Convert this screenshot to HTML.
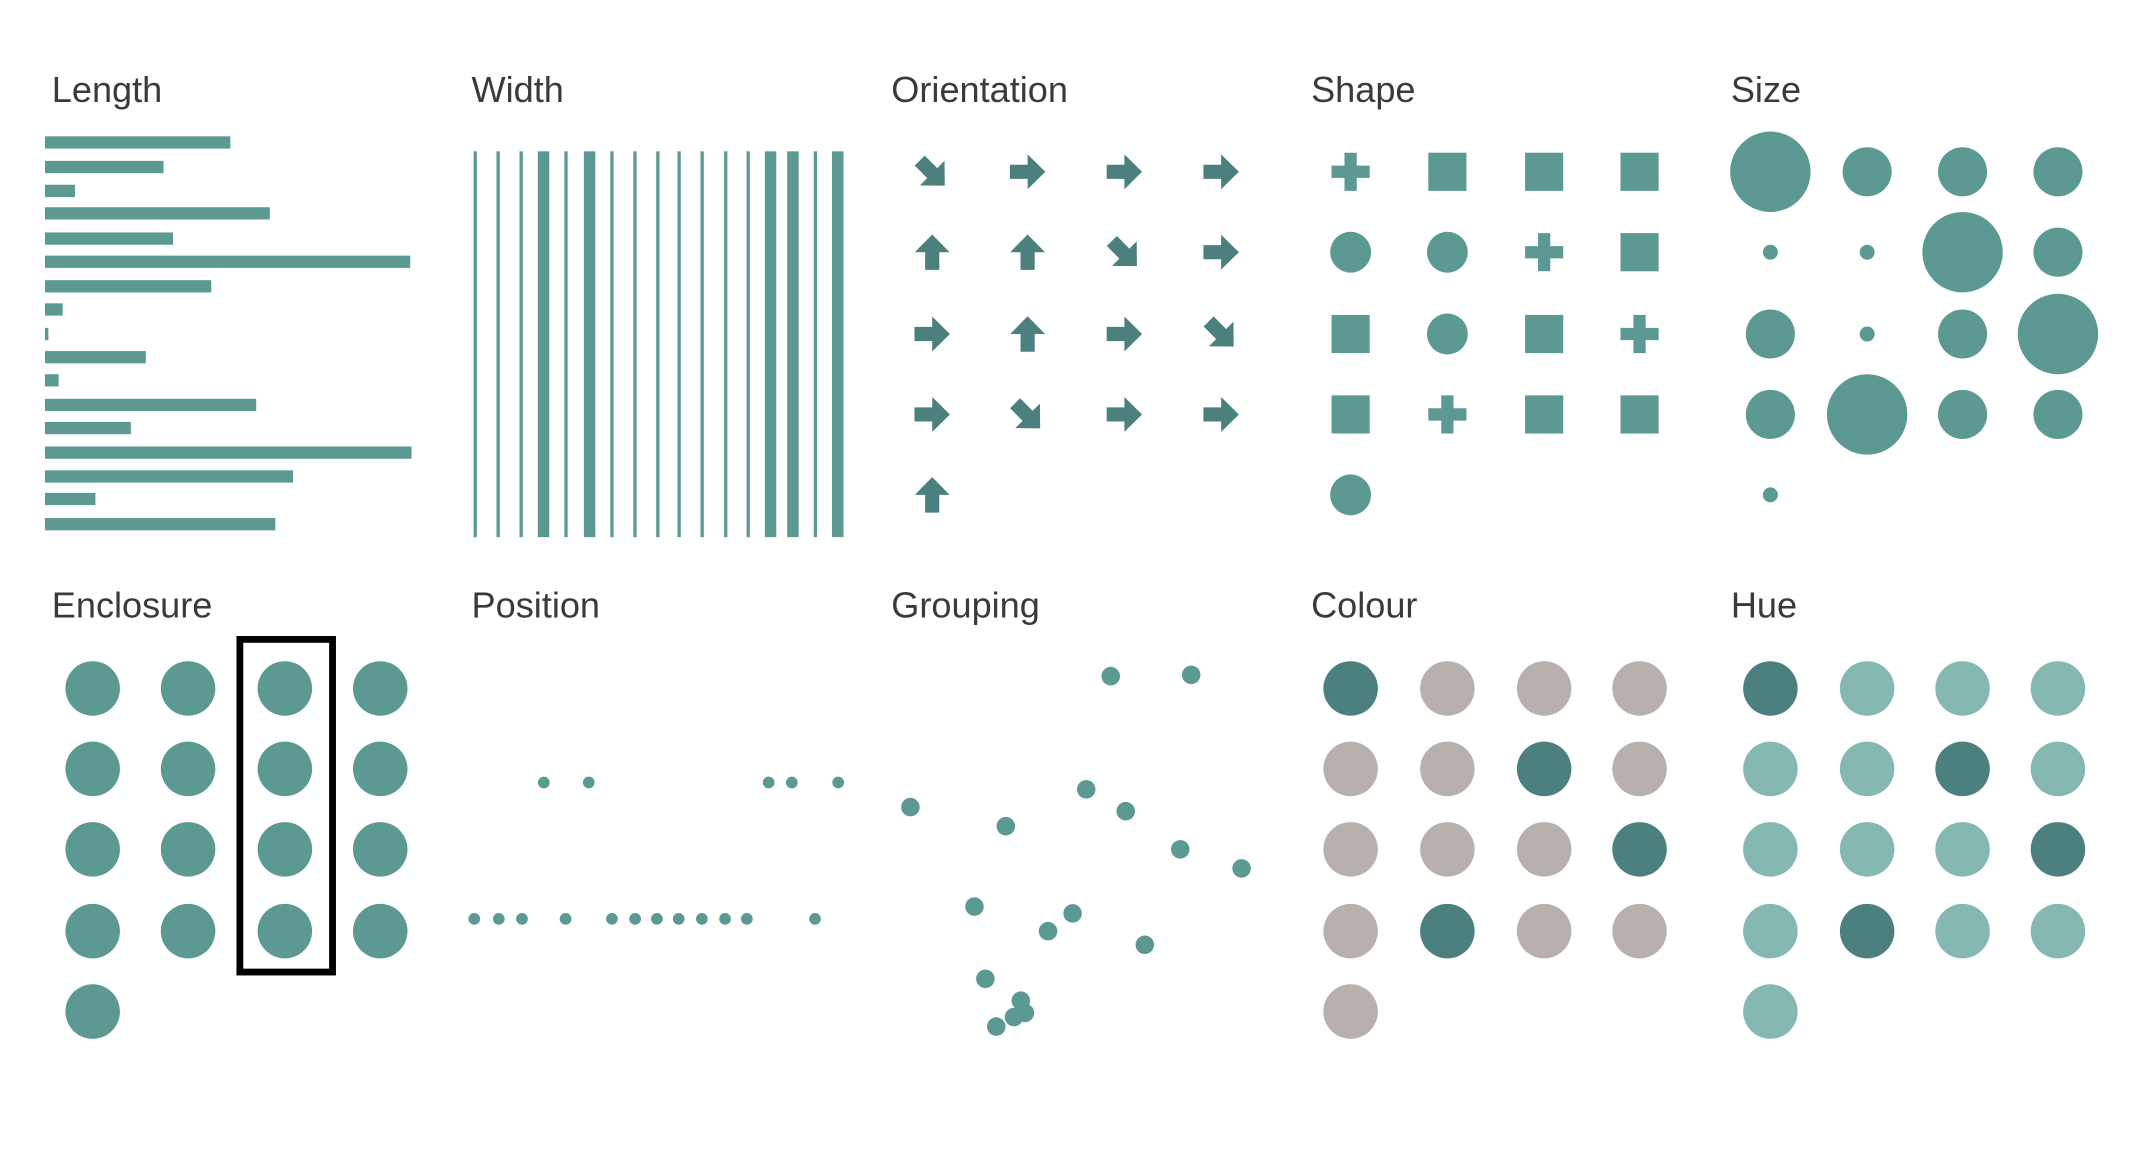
<!DOCTYPE html>
<html><head><meta charset="utf-8"><style>
html,body{margin:0;padding:0;background:#fff;}
svg{display:block;}
text{font-family:"Liberation Sans",sans-serif;font-size:26.5px;fill:#3a3a3a;}
</style></head><body>
<svg width="2137" height="1152" viewBox="0 0 1568 845" preserveAspectRatio="none" xmlns="http://www.w3.org/2000/svg">
<defs>
<g id="ar"><polygon points="-13,-5.2 0,-5.2 0,-12.8 13,0 0,12.8 0,5.2 -13,5.2" fill="#4b807e"/></g>
<g id="pl"><polygon points="-4.5,-14 4.5,-14 4.5,-4.5 14,-4.5 14,4.5 4.5,4.5 4.5,14 -4.5,14 -4.5,4.5 -14,4.5 -14,-4.5 -4.5,-4.5" fill="#5c9993"/></g>
</defs>
<text x="38" y="75">Length</text>
<text x="346" y="75">Width</text>
<text x="654" y="75">Orientation</text>
<text x="962" y="75">Shape</text>
<text x="1270" y="75">Size</text>
<text x="38" y="453">Enclosure</text>
<text x="346" y="453">Position</text>
<text x="654" y="453">Grouping</text>
<text x="962" y="453">Colour</text>
<text x="1270" y="453">Hue</text>

<g fill="#5c9993">
<rect x="33" y="100" width="136" height="9"/>
<rect x="33" y="118" width="87" height="9"/>
<rect x="33" y="135.5" width="22" height="9"/>
<rect x="33" y="152" width="165" height="9"/>
<rect x="33" y="170.5" width="94" height="9"/>
<rect x="33" y="187.5" width="268" height="9"/>
<rect x="33" y="205.5" width="122" height="9"/>
<rect x="33" y="222.5" width="13" height="9"/>
<rect x="33" y="240.5" width="2.5" height="9"/>
<rect x="33" y="257.5" width="74" height="9"/>
<rect x="33" y="274.5" width="10" height="9"/>
<rect x="33" y="292.5" width="155" height="9"/>
<rect x="33" y="309.5" width="63" height="9"/>
<rect x="33" y="327.5" width="269" height="9"/>
<rect x="33" y="345" width="182" height="9"/>
<rect x="33" y="361.5" width="37" height="9"/>
<rect x="33" y="380" width="169" height="9"/>
</g>

<g fill="#5c9993">
<rect x="347.5" y="111" width="2.4" height="283"/>
<rect x="364.3" y="111" width="2.4" height="283"/>
<rect x="381.2" y="111" width="2.4" height="283"/>
<rect x="394.6" y="111" width="8.4" height="283"/>
<rect x="414.1" y="111" width="2.4" height="283"/>
<rect x="428.4" y="111" width="8.4" height="283"/>
<rect x="447.8" y="111" width="2.4" height="283"/>
<rect x="464.7" y="111" width="2.4" height="283"/>
<rect x="481.5" y="111" width="2.4" height="283"/>
<rect x="497.1" y="111" width="2.4" height="283"/>
<rect x="514" y="111" width="2.4" height="283"/>
<rect x="531.3" y="111" width="2.4" height="283"/>
<rect x="547.8" y="111" width="2.4" height="283"/>
<rect x="561.2" y="111" width="8.4" height="283"/>
<rect x="577.6" y="111" width="8.4" height="283"/>
<rect x="597.1" y="111" width="2.4" height="283"/>
<rect x="610.5" y="111" width="8.4" height="283"/>
</g>

<!-- arrows -->
<use href="#ar" transform="translate(684,127) rotate(45)"/>
<use href="#ar" transform="translate(754,126)"/>
<use href="#ar" transform="translate(825,126)"/>
<use href="#ar" transform="translate(896,126)"/>
<use href="#ar" transform="translate(684,185) rotate(-90)"/>
<use href="#ar" transform="translate(754,185) rotate(-90)"/>
<use href="#ar" transform="translate(825,186) rotate(45)"/>
<use href="#ar" transform="translate(896,185)"/>
<use href="#ar" transform="translate(684,245)"/>
<use href="#ar" transform="translate(754,245) rotate(-90)"/>
<use href="#ar" transform="translate(825,245)"/>
<use href="#ar" transform="translate(896,245) rotate(45)"/>
<use href="#ar" transform="translate(684,304)"/>
<use href="#ar" transform="translate(754,305) rotate(45)"/>
<use href="#ar" transform="translate(825,304)"/>
<use href="#ar" transform="translate(896,304)"/>
<use href="#ar" transform="translate(684,363) rotate(-90)"/>

<!-- shapes -->
<g fill="#5c9993">
<use href="#pl" transform="translate(991,126)"/>
<rect x="1048" y="112" width="28" height="28"/>
<rect x="1119" y="112" width="28" height="28"/>
<rect x="1189" y="112" width="28" height="28"/>
<circle cx="991" cy="185" r="15"/>
<circle cx="1062" cy="185" r="15"/>
<use href="#pl" transform="translate(1133,185)"/>
<rect x="1189" y="171" width="28" height="28"/>
<rect x="977" y="231" width="28" height="28"/>
<circle cx="1062" cy="245" r="15"/>
<rect x="1119" y="231" width="28" height="28"/>
<use href="#pl" transform="translate(1203,245)"/>
<rect x="977" y="290" width="28" height="28"/>
<use href="#pl" transform="translate(1062,304)"/>
<rect x="1119" y="290" width="28" height="28"/>
<rect x="1189" y="290" width="28" height="28"/>
<circle cx="991" cy="363" r="15"/>
</g>

<!-- size -->
<g fill="#5c9993">
<circle cx="1299" cy="126" r="29.5"/><circle cx="1370" cy="126" r="18"/><circle cx="1440" cy="126" r="18"/><circle cx="1510" cy="126" r="18"/>
<circle cx="1299" cy="185" r="5.5"/><circle cx="1370" cy="185" r="5.5"/><circle cx="1440" cy="185" r="29.5"/><circle cx="1510" cy="185" r="18"/>
<circle cx="1299" cy="245" r="18"/><circle cx="1370" cy="245" r="5.5"/><circle cx="1440" cy="245" r="18"/><circle cx="1510" cy="245" r="29.5"/>
<circle cx="1299" cy="304" r="18"/><circle cx="1370" cy="304" r="29.5"/><circle cx="1440" cy="304" r="18"/><circle cx="1510" cy="304" r="18"/>
<circle cx="1299" cy="363" r="5.5"/>
</g>

<!-- enclosure -->
<g fill="#5c9993">
<circle cx="68" cy="505" r="20"/><circle cx="138" cy="505" r="20"/><circle cx="209" cy="505" r="20"/><circle cx="279" cy="505" r="20"/>
<circle cx="68" cy="564" r="20"/><circle cx="138" cy="564" r="20"/><circle cx="209" cy="564" r="20"/><circle cx="279" cy="564" r="20"/>
<circle cx="68" cy="623" r="20"/><circle cx="138" cy="623" r="20"/><circle cx="209" cy="623" r="20"/><circle cx="279" cy="623" r="20"/>
<circle cx="68" cy="683" r="20"/><circle cx="138" cy="683" r="20"/><circle cx="209" cy="683" r="20"/><circle cx="279" cy="683" r="20"/>
<circle cx="68" cy="742" r="20"/>
</g>
<rect x="176" y="469" width="68" height="244" fill="none" stroke="#000" stroke-width="5"/>

<!-- position -->
<g fill="#5c9993">
<circle cx="399" cy="574" r="4.3"/><circle cx="432" cy="574" r="4.3"/><circle cx="564" cy="574" r="4.3"/><circle cx="581" cy="574" r="4.3"/><circle cx="615" cy="574" r="4.3"/>
<circle cx="348" cy="674" r="4.3"/><circle cx="366" cy="674" r="4.3"/><circle cx="383" cy="674" r="4.3"/><circle cx="415" cy="674" r="4.3"/><circle cx="449" cy="674" r="4.3"/><circle cx="466" cy="674" r="4.3"/><circle cx="482" cy="674" r="4.3"/><circle cx="498" cy="674" r="4.3"/><circle cx="515" cy="674" r="4.3"/><circle cx="532" cy="674" r="4.3"/><circle cx="548" cy="674" r="4.3"/><circle cx="598" cy="674" r="4.3"/>
</g>

<!-- grouping -->
<g fill="#5c9993">
<circle cx="815" cy="496" r="6.8"/><circle cx="874" cy="495" r="6.8"/><circle cx="668" cy="592" r="6.8"/><circle cx="738" cy="606" r="6.8"/><circle cx="797" cy="579" r="6.8"/><circle cx="826" cy="595" r="6.8"/><circle cx="866" cy="623" r="6.8"/><circle cx="911" cy="637" r="6.8"/><circle cx="715" cy="665" r="6.8"/><circle cx="787" cy="670" r="6.8"/><circle cx="769" cy="683" r="6.8"/><circle cx="840" cy="693" r="6.8"/><circle cx="723" cy="718" r="6.8"/><circle cx="749" cy="734" r="6.8"/><circle cx="752" cy="743" r="6.8"/><circle cx="744" cy="746" r="6.8"/><circle cx="731" cy="753" r="6.8"/>
</g>

<!-- colour -->
<g>
<circle cx="991" cy="505" r="20" fill="#4b807e"/><circle cx="1062" cy="505" r="20" fill="#b8b0ad"/><circle cx="1133" cy="505" r="20" fill="#b8b0ad"/><circle cx="1203" cy="505" r="20" fill="#b8b0ad"/>
<circle cx="991" cy="564" r="20" fill="#b8b0ad"/><circle cx="1062" cy="564" r="20" fill="#b8b0ad"/><circle cx="1133" cy="564" r="20" fill="#4b807e"/><circle cx="1203" cy="564" r="20" fill="#b8b0ad"/>
<circle cx="991" cy="623" r="20" fill="#b8b0ad"/><circle cx="1062" cy="623" r="20" fill="#b8b0ad"/><circle cx="1133" cy="623" r="20" fill="#b8b0ad"/><circle cx="1203" cy="623" r="20" fill="#4b807e"/>
<circle cx="991" cy="683" r="20" fill="#b8b0ad"/><circle cx="1062" cy="683" r="20" fill="#4b807e"/><circle cx="1133" cy="683" r="20" fill="#b8b0ad"/><circle cx="1203" cy="683" r="20" fill="#b8b0ad"/>
<circle cx="991" cy="742" r="20" fill="#b8b0ad"/>
</g>
<!-- hue -->
<g>
<circle cx="1299" cy="505" r="20" fill="#4b807e"/><circle cx="1370" cy="505" r="20" fill="#85b8b1"/><circle cx="1440" cy="505" r="20" fill="#85b8b1"/><circle cx="1510" cy="505" r="20" fill="#85b8b1"/>
<circle cx="1299" cy="564" r="20" fill="#85b8b1"/><circle cx="1370" cy="564" r="20" fill="#85b8b1"/><circle cx="1440" cy="564" r="20" fill="#4b807e"/><circle cx="1510" cy="564" r="20" fill="#85b8b1"/>
<circle cx="1299" cy="623" r="20" fill="#85b8b1"/><circle cx="1370" cy="623" r="20" fill="#85b8b1"/><circle cx="1440" cy="623" r="20" fill="#85b8b1"/><circle cx="1510" cy="623" r="20" fill="#4b807e"/>
<circle cx="1299" cy="683" r="20" fill="#85b8b1"/><circle cx="1370" cy="683" r="20" fill="#4b807e"/><circle cx="1440" cy="683" r="20" fill="#85b8b1"/><circle cx="1510" cy="683" r="20" fill="#85b8b1"/>
<circle cx="1299" cy="742" r="20" fill="#85b8b1"/>
</g>
</svg>
</body></html>
